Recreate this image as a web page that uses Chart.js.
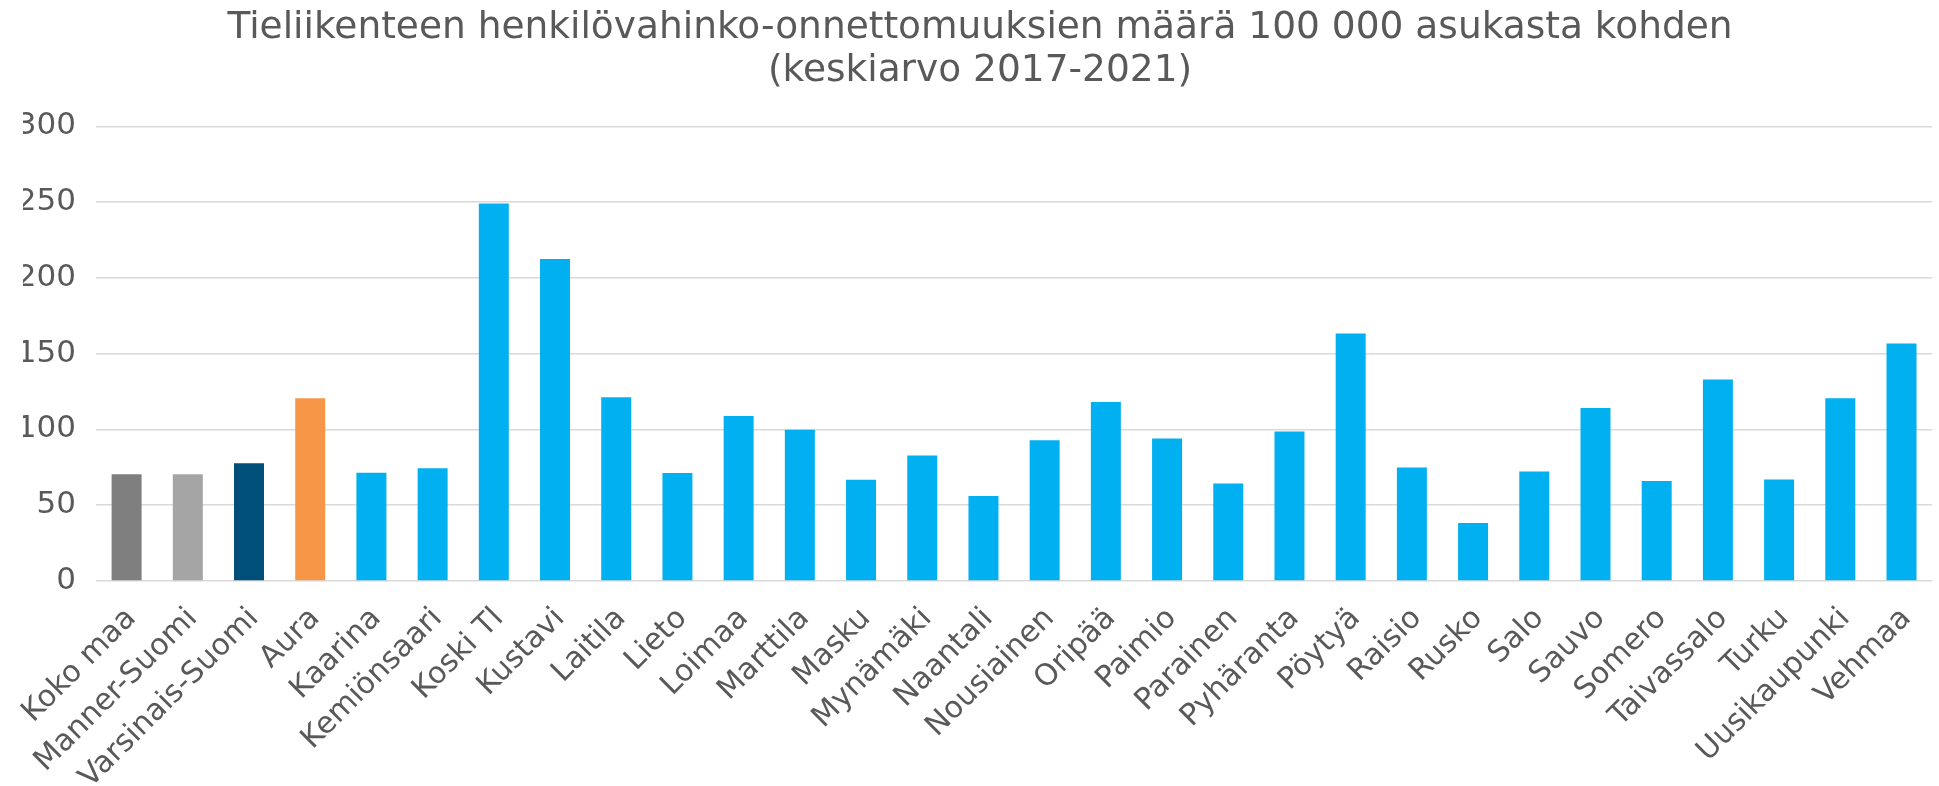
<!DOCTYPE html>
<html lang="fi">
<head>
<meta charset="utf-8">
<title>Tieliikenteen henkilövahinko-onnettomuudet</title>
<script src="https://cdn.jsdelivr.net/npm/chart.js"></script>
<style>
  html, body { margin: 0; padding: 0; background: #ffffff; }
  #wrap { width: 1939px; height: 786px; }
</style>
</head>
<body>
<div id="wrap"><canvas id="chart" width="1939" height="786"></canvas></div>
<script>
// Kunnat ja vertailualueet (x-akseli)
var categories = ["Koko maa", "Manner-Suomi", "Varsinais-Suomi", "Aura", "Kaarina", "Kemiönsaari",
    "Koski Tl", "Kustavi", "Laitila", "Lieto", "Loimaa", "Marttila", "Masku", "Mynämäki", "Naantali",
    "Nousiainen", "Oripää", "Paimio", "Parainen", "Pyhäranta", "Pöytyä", "Raisio", "Rusko", "Salo",
    "Sauvo", "Somero", "Taivassalo", "Turku", "Uusikaupunki", "Vehmaa"];

// Onnettomuudet / 100 000 asukasta, luettu kuvasta
var values = [70.5, 70.5, 77.7, 120.6, 71.4, 74.4, 249.0, 212.4, 121.2, 71.2, 108.9, 99.7, 66.8, 82.8,
    56.0, 92.9, 118.1, 94.0, 64.3, 98.6, 163.2, 74.9, 38.2, 72.2, 114.2, 65.9, 132.9, 67.0, 120.6, 156.6];

// y-akselin jaotus
var yTicks = [0, 50, 100, 150, 200, 250, 300];

var titleLines = ["Tieliikenteen henkilövahinko-onnettomuuksien määrä 100 000 asukasta kohden",
    "(keskiarvo 2017-2021)"];

// värit: vertailualueet eri väreillä, Aura oranssi, muut vaaleansininen
var barColors = categories.map(function (name, i) {
    if (i === 0) return "#7f7f7f";
    if (i === 1) return "#a5a5a5";
    if (i === 2) return "#004f7a";
    if (i === 3) return "#f79646";
    return "#00b0f0";
});

var textColor = "#595959";
var fontFamily = "'DejaVu Sans', Verdana, sans-serif";

new Chart(document.getElementById("chart"), {
    type: "bar",
    data: {
        labels: categories,
        datasets: [{
            data: values,
            backgroundColor: barColors,
            borderWidth: 0,
            barPercentage: 0.49,
            categoryPercentage: 1.0
        }]
    },
    options: {
        responsive: false,
        animation: false,
        // vasen reunus siirtää otsikkoa hieman oikealle kuten alkuperäisessä
        layout: { padding: { left: 23, right: 2, top: 0, bottom: 0 } },
        plugins: {
            legend: { display: false },
            tooltip: { enabled: false },
            title: {
                display: true,
                text: titleLines,
                color: textColor,
                font: { family: fontFamily, size: 37.5, weight: "normal", lineHeight: 1.15 },
                padding: { top: 7, bottom: 33 }
            }
        },
        scales: {
            x: {
                grid: { display: false },
                border: { display: false },
                afterFit: function (axis) { axis.height = 205; },
                ticks: {
                    color: textColor,
                    font: { family: fontFamily, size: 30 },
                    maxRotation: 45,
                    minRotation: 45,
                    autoSkip: false,
                    labelOffset: 5,
                    padding: 12
                }
            },
            y: {
                min: 0,
                max: 300,
                afterBuildTicks: function (axis) {
                    axis.ticks = yTicks.map(function (v) { return { value: v }; });
                },
                afterFit: function (axis) { axis.width = 73; },
                grid: { color: "#d9d9d9", lineWidth: 1.5, drawTicks: false },
                border: { display: false },
                ticks: {
                    color: textColor,
                    font: { family: fontFamily, size: 31 },
                    padding: 20
                }
            }
        }
    }
});
</script>
</body>
</html>
